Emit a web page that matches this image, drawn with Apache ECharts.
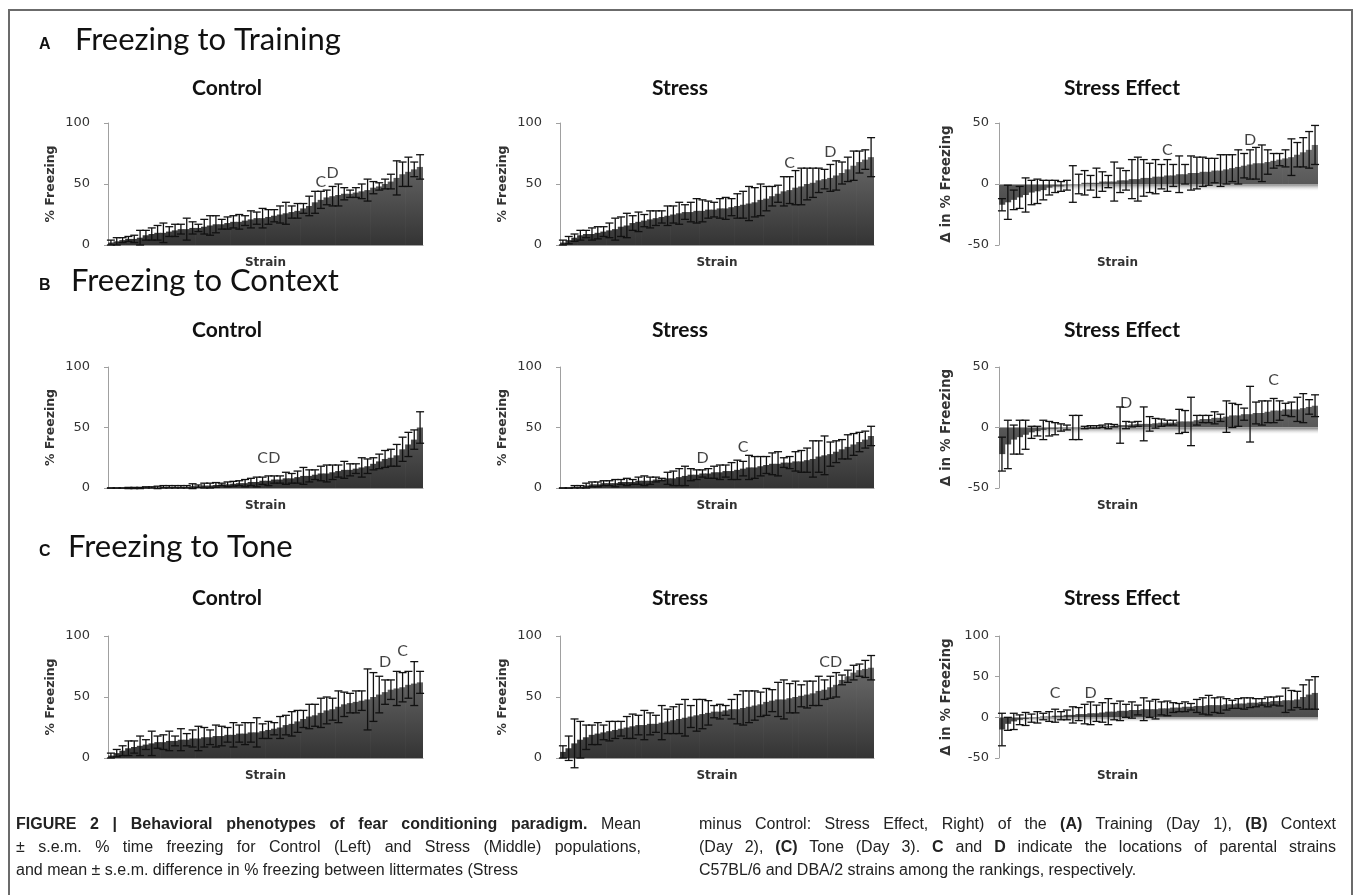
<!DOCTYPE html>
<html><head><meta charset="utf-8">
<script src="https://cdn.jsdelivr.net/npm/echarts@6/dist/echarts.min.js"></script>
<style>
html,body{margin:0;padding:0;background:#fff;}
#chart{position:absolute;left:0;top:0;width:1355px;height:895px;}
#frame{position:absolute;left:8px;top:9px;width:1341px;height:900px;border:2px solid #6b6b6b;border-bottom:none;}
.cap{position:absolute;font-family:"Liberation Sans",Arial,sans-serif;font-size:16px;color:#222;white-space:nowrap;}
.cap div{height:23px;line-height:23px;}
.j{text-align:justify;text-align-last:justify;}
</style></head>
<body>
<div id="frame"></div>
<div id="chart"></div>
<div class="cap" style="left:16px;top:812px;width:625px">
 <div class="j"><b>FIGURE 2 | Behavioral phenotypes of fear conditioning paradigm.</b> Mean</div>
 <div class="j">± s.e.m. % time freezing for Control (Left) and Stress (Middle) populations,</div>
 <div>and mean ± s.e.m. difference in % freezing between littermates (Stress</div>
</div>
<div class="cap" style="left:699px;top:812px;width:637px">
 <div class="j">minus Control: Stress Effect, Right) of the <b>(A)</b> Training (Day 1), <b>(B)</b> Context</div>
 <div class="j">(Day 2), <b>(C)</b> Tone (Day 3). <b>C</b> and <b>D</b> indicate the locations of parental strains</div>
 <div>C57BL/6 and DBA/2 strains among the rankings, respectively.</div>
</div>
<script>
// ---- data (strains ranked by mean) ----
const A_ctrl_mean = [2,3,4,5,5,6, 8,9,10,10,11,12, 13,13,14,14,15,16, 17,17,18,19,19,20, 21,22,22,23,24,25, 26,27,28,30,32,35, 37,39,40,41,42,42, 43,44,45,47,48,50, 52,55,58,60,62,64];
const A_ctrl_err  = [2,3,2,2,3,6, 4,5,6,8,4,5, 4,9,5,3,6,8, 7,4,5,5,6,4, 7,5,8,6,5,7, 9,5,6,4,8,9, 7,6,8,9,5,3, 4,6,9,5,3,4, 6,14,10,12,6,10];
const A_str_mean  = [2,4,6,8,9,9, 10,11,12,13,15,16, 18,19,20,21,22,23, 24,25,26,27,27,28, 28,29,29,30,30,31, 32,33,34,35,37,38, 40,42,44,45,47,48, 50,51,53,54,55,57, 59,62,65,68,70,72];
const A_str_err   = [2,3,3,4,3,5, 5,4,6,9,8,10, 6,8,5,7,6,5, 8,7,9,6,8,10, 9,7,6,8,9,7, 10,11,14,12,13,10, 8,7,12,11,14,15, 13,12,10,8,11,12, 9,10,12,9,8,16];
const A_eff_mean  = [-17,-15,-13,-11,-9,-7, -6,-5,-3,-2,-2,-1, 0,0,1,1,1,2, 2,2,3,3,4,4, 5,5,6,6,7,7, 8,8,9,9,10,10, 11,11,12,13,14,15, 16,17,17,18,19,20, 21,22,24,26,28,32];
const A_eff_err   = [5,14,8,9,14,10, 10,8,6,5,4,4, 15,8,10,6,12,8, 5,16,10,8,16,18, 15,12,14,10,13,9, 15,8,14,13,12,11, 10,13,12,11,14,10, 12,13,15,10,6,5, 7,15,10,12,15,16];

const B_ctrl_mean = [0,0,0,0,0,0, 0.5,0.5,0.5,1,1,1, 1,1,1.5,1.5,2,2, 2.5,3,3,3.5,4,4, 5,5,6,6,7,7, 8,8,9,10,10,11, 12,12,13,14,15,15, 16,17,18,20,22,24, 25,27,32,36,40,50];
const B_ctrl_err  = [0,0,0,0.5,0.5,0.5, 0.5,0.5,1,1,1,1, 1,1,2,1,2,2, 2,1,2,2,2,3, 3,4,3,4,3,3, 5,4,5,7,5,4, 6,7,6,5,7,5, 4,8,6,5,6,7, 7,9,10,10,8,13];
const B_str_mean  = [0,0,1,1,2,3, 3,4,4,4,5,5, 5,6,6,6,7,7, 8,8,9,10,11,11, 12,12,13,13,14,14, 15,16,17,17,18,19, 20,20,21,21,22,22, 23,24,26,27,28,30, 32,34,36,38,40,43];
const B_str_err   = [0,0,1,1,2,2, 2,2,2,3,2,3, 2,3,4,3,2,1, 5,6,7,8,5,4, 3,4,5,6,5,7, 8,6,10,9,8,7, 9,10,4,5,8,9, 10,15,13,16,10,9, 8,10,9,8,7,8];
const B_eff_mean  = [-22,-14,-10,-8,-6,-4, -3,-2,-1,-1,0,0, 0,0,0,0.5,0.5,1, 1,1.5,2,2,2.5,3, 3,3,3.5,4,4,4, 5,5,5,6,7,7, 8,8,9,10,10,11, 11,12,12,13,14,14, 15,15,15,16,17,18];
const B_eff_err   = [14,20,12,14,12,5, 4,8,6,5,3,2, 10,10,1,1,1,1, 2,1,15,3,2,2, 14,6,4,3,2,2, 10,9,20,4,3,3, 5,3,13,10,9,5, 23,9,10,9,10,8, 5,6,10,12,6,9];

const C_ctrl_mean = [2,4,6,8,9,10, 11,12,13,13,14,14, 15,15,16,16,17,17, 18,18,19,19,20,20, 21,21,22,23,24,25, 27,28,30,32,34,35, 37,39,40,42,44,45, 46,47,48,50,52,54, 56,57,58,60,61,62];
const C_ctrl_err  = [2,3,4,6,5,8, 4,10,5,6,8,4, 9,5,7,10,8,6, 9,8,6,10,7,9, 8,12,6,7,5,9, 8,10,9,7,10,9, 12,11,9,13,10,8, 9,8,25,20,15,10, 8,14,12,11,18,9];
const C_str_mean  = [5,8,12,15,17,19, 20,21,22,23,24,25, 26,27,27,28,28,29, 30,31,32,33,34,35, 36,37,38,38,39,40, 40,41,42,43,44,46, 47,48,48,49,50,51, 52,53,55,56,58,60, 64,67,70,72,73,74];
const C_str_err   = [5,10,20,15,10,8, 9,6,8,7,6,9, 10,8,12,9,7,14, 10,11,12,15,9,13, 12,10,5,6,4,8, 12,14,13,12,10,11, 9,14,16,12,13,9, 11,10,12,8,9,10, 4,5,6,5,7,10];
const C_eff_mean  = [-15,-8,-5,-3,-2,-1, 0,1,1,2,2,3, 3,4,4,5,5,6, 7,7,8,8,9,9, 10,10,10,11,11,12, 12,13,13,14,14,15, 15,15,16,16,17,17, 18,18,19,19,20,20, 21,21,22,25,28,30];
const C_eff_err   = [20,8,10,6,8,5, 7,4,6,8,5,6, 10,8,12,14,10,12, 16,10,12,8,10,6, 14,10,12,8,9,6, 5,6,4,8,10,12, 9,10,7,5,6,7, 6,5,4,6,5,6, 15,12,10,15,18,20];

// parental strain markers: [rank index, label height (% units), letter]
const A_ctrl_marks = [[36,52,'C'],[38,59,'D']];
const A_str_marks  = [[39,67,'C'],[46,76,'D']];
const A_eff_marks  = [[28,28,'C'],[42,36,'D']];
const B_ctrl_marks = [[26,25,'C'],[28,25,'D']];
const B_str_marks  = [[24,25,'D'],[31,34,'C']];
const B_eff_marks  = [[21,20,'D'],[46,39,'C']];
const C_ctrl_marks = [[47,79,'D'],[50,88,'C']];
const C_str_marks  = [[45,79,'C'],[47,79,'D']];
const C_eff_marks  = [[9,30,'C'],[15,30,'D']];

const strains = A_ctrl_mean.map((_, i) => 'Strain ' + (i + 1));
const rowTitles = [['A','Freezing to Training'],['B','Freezing to Context'],['C','Freezing to Tone']];
const colTitles = ['Control','Stress','Stress Effect'];

// caption font: prefer a condensed face if one is installed
(function () {
  const cv = document.createElement('canvas').getContext('2d');
  const s = 'freezing between littermates';
  cv.font = '18px "Liberation Sans Narrow", monospace'; const a = cv.measureText(s).width;
  cv.font = '18px monospace'; const b = cv.measureText(s).width;
  if (Math.abs(a - b) > 1) {
    document.querySelectorAll('.cap').forEach(el => { el.style.fontFamily = '"Liberation Sans Narrow", sans-serif'; el.style.fontSize = '18.5px'; });
  }
})();

// ---- layout ----
const cols = [
  {left:108, width:315, labelMargin:18, nameGap:51, tx:227, strainShift:0},
  {left:560, width:314, labelMargin:18, nameGap:51, tx:680, strainShift:0},
  {left:999, width:319, labelMargin:10, nameGap:46, tx:1122, strainShift:82}
];
const rows = [
  {top:123, height:122, titleY:88, headY:40, letterY:44.5, headX:75},
  {top:367, height:121, titleY:330, headY:281, letterY:286, headX:71},
  {top:636, height:122, titleY:598, headY:547, letterY:552, headX:68}
];
const panels = [
  [A_ctrl_mean,A_ctrl_err,A_ctrl_marks,0,100],[A_str_mean,A_str_err,A_str_marks,0,100],[A_eff_mean,A_eff_err,A_eff_marks,-50,50],
  [B_ctrl_mean,B_ctrl_err,B_ctrl_marks,0,100],[B_str_mean,B_str_err,B_str_marks,0,100],[B_eff_mean,B_eff_err,B_eff_marks,-50,50],
  [C_ctrl_mean,C_ctrl_err,C_ctrl_marks,0,100],[C_str_mean,C_str_err,C_str_marks,0,100],[C_eff_mean,C_eff_err,C_eff_marks,-50,100]
];

const grid = [], xAxis = [], yAxis = [], series = [], graphic = [];
const axisName = {fontFamily:'DejaVu Sans', fontWeight:'bold', fontSize:12.5, color:'#333'};

function renderErr(params, api) {
  const x = api.value(0), m = api.value(1), e = api.value(2);
  const hi = api.coord([x, m + e]), lo = api.coord([x, m - e]);
  const w = 4, st = {stroke:'#111', lineWidth:1.3};
  return {type:'group', children:[
    {type:'line', shape:{x1:hi[0], y1:hi[1], x2:lo[0], y2:lo[1]}, style:st},
    {type:'line', shape:{x1:hi[0]-w, y1:hi[1], x2:hi[0]+w, y2:hi[1]}, style:st},
    {type:'line', shape:{x1:lo[0]-w, y1:lo[1], x2:lo[0]+w, y2:lo[1]}, style:st}
  ]};
}

panels.forEach((p, k) => {
  const [mean, err, marks, ymin, ymax] = p;
  const r = rows[Math.floor(k / 3)], c = cols[k % 3];
  const isEff = (k % 3) === 2;
  grid.push({left:c.left, top:r.top, width:c.width, height:r.height});
  xAxis.push({
    type:'category', gridIndex:k, data:strains,
    axisLabel:{show:false}, axisTick:{show:false},
    axisLine:{show:!isEff, onZero:false, lineStyle:{color:'#a0a0a0', width:1}},
    name:'Strain', nameLocation:'middle', nameGap:12,
    nameTextStyle:Object.assign({padding:[0, c.strainShift, 0, 0]}, axisName, {fontSize:12})
  });
  yAxis.push({
    type:'value', gridIndex:k, min:ymin, max:ymax, interval:50,
    splitLine:{show:false},
    axisLine:{show:true, lineStyle:{color:'#a0a0a0', width:1}},
    axisTick:{show:true, length:4, lineStyle:{color:'#a0a0a0'}},
    axisLabel:{margin:c.labelMargin, fontFamily:'DejaVu Sans', fontSize:13, color:'#333'},
    name:isEff ? 'Δ in % Freezing' : '% Freezing', nameLocation:'middle', nameGap:c.nameGap,
    nameTextStyle:isEff ? Object.assign({}, axisName, {fontSize:13.5}) : axisName
  });
  const fill = new echarts.graphic.LinearGradient(0, r.top, 0, r.top + r.height,
    [{offset:0, color:'#7c7c7c'}, {offset:1, color:'#343434'}], true);
  series.push({
    type:'bar', xAxisIndex:k, yAxisIndex:k, data:mean, barWidth:'112%', silent:true,
    itemStyle:{color:fill},
    markLine: isEff ? {silent:true, symbol:'none', label:{show:false}, lineStyle:{color:'#a0a0a0', type:'solid', width:1}, data:[{yAxis:0}]} : undefined,
    markArea: isEff ? {silent:true, itemStyle:{color:new echarts.graphic.LinearGradient(0,0,0,1,[{offset:0,color:'rgba(80,80,80,0.8)'},{offset:1,color:'rgba(255,255,255,0)'}])},
      data:[[{yAxis:0}, {yAxis:-6}]]} : undefined
  });
  series.push({
    type:'custom', xAxisIndex:k, yAxisIndex:k, silent:true, renderItem:renderErr,
    encode:{x:0, y:1}, data:mean.map((m, i) => [i, m, err[i]]), z:5
  });
  series.push({
    type:'scatter', xAxisIndex:k, yAxisIndex:k, silent:true, symbolSize:1,
    itemStyle:{color:'rgba(0,0,0,0)'}, z:6,
    data:marks.map(m => ({value:[m[0], m[1]], name:m[2]})),
    label:{show:true, position:'inside', formatter:q => q.name, fontFamily:'Lato', fontSize:16, color:'#111'}
  });
  graphic.push({type:'text', x:c.tx, y:r.titleY, style:{text:colTitles[k % 3], font:'bold 21px Lato', fill:'#111', textAlign:'center', textVerticalAlign:'middle'}});
});

rows.forEach((r, i) => {
  graphic.push({type:'text', x:39, y:r.letterY, style:{text:rowTitles[i][0], font:'bold 16px "Liberation Sans"', fill:'#111', textAlign:'left', textVerticalAlign:'middle'}});
  graphic.push({type:'text', x:r.headX, y:r.headY, style:{text:rowTitles[i][1], font:'31px Lato', fill:'#111', textAlign:'left', textVerticalAlign:'middle'}});
});

const chart = echarts.init(document.getElementById('chart'), null, {renderer:'canvas'});
chart.setOption({animation:false, backgroundColor:'transparent', grid, xAxis, yAxis, series, graphic});
</script>
</body></html>
